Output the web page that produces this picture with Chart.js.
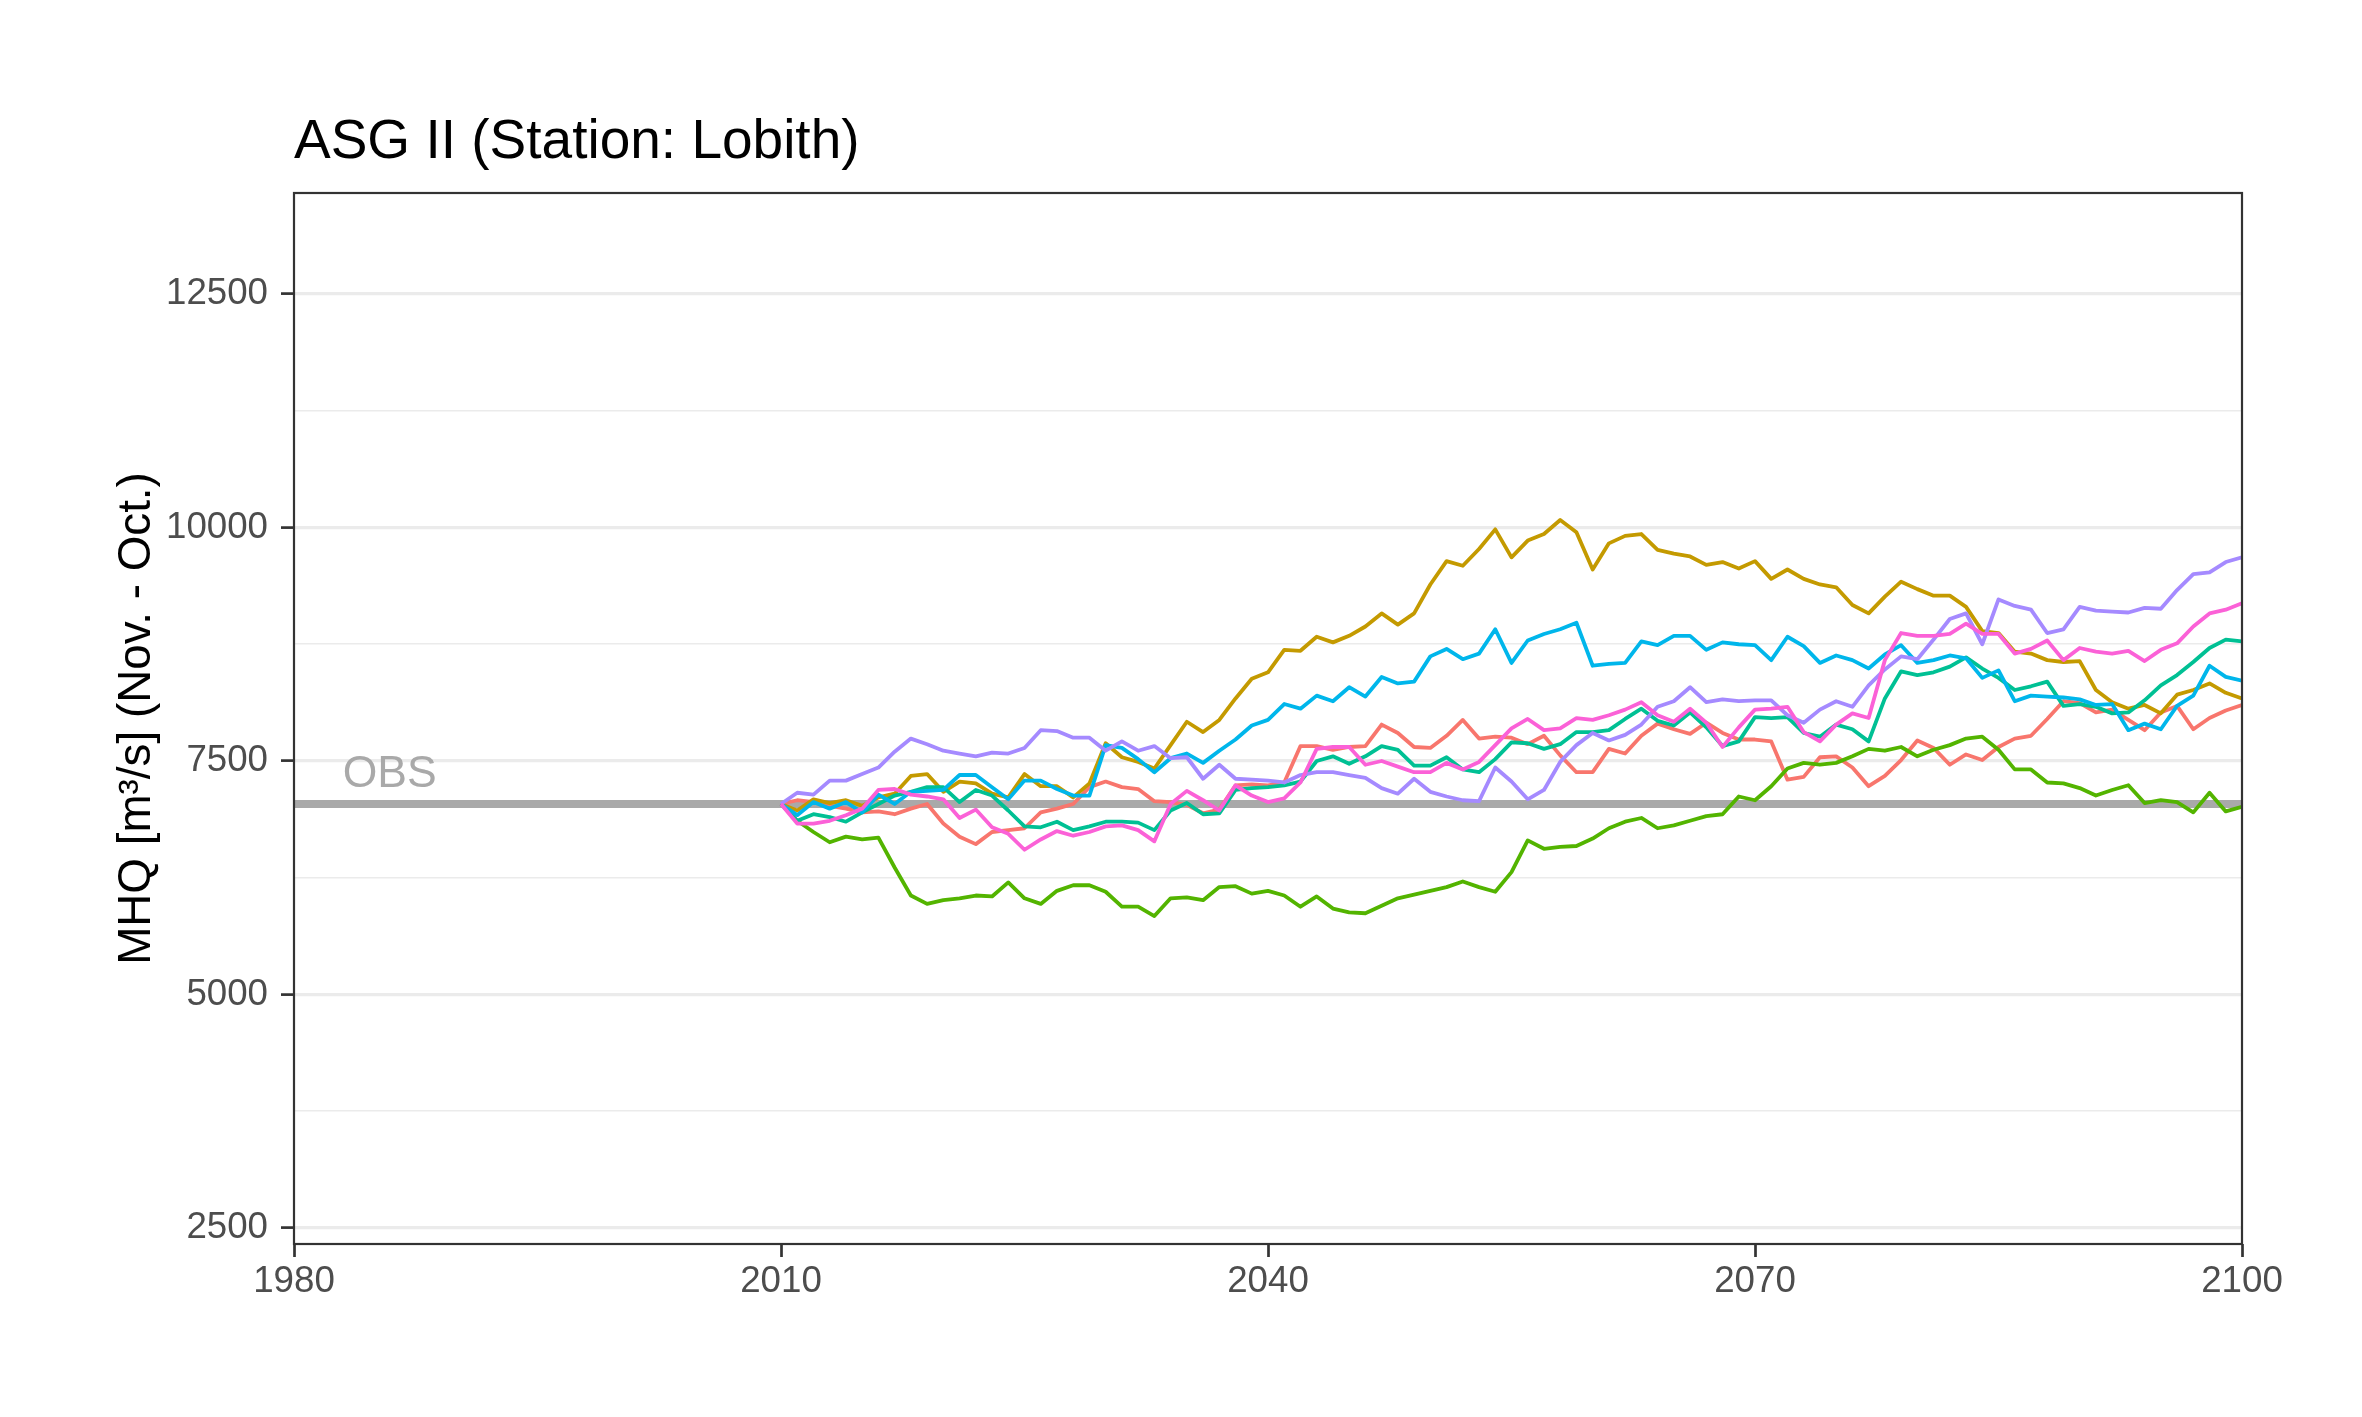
<!DOCTYPE html>
<html>
<head>
<meta charset="utf-8">
<title>ASG II (Station: Lobith)</title>
<script src="https://cdn.jsdelivr.net/npm/chart.js@4.4.1/dist/chart.umd.min.js"></script>
<style>
    html, body { margin: 0; padding: 0; background: #ffffff; }
    #wrap { width: 2362px; height: 1417px; }
</style>
</head>
<body>
<div id="wrap"><canvas id="mhq-chart" width="2362" height="1417"></canvas></div>

<script>
    // Jahre der Modellläufe
    const years = [
        2010, 2011, 2012, 2013, 2014, 2015, 2016, 2017, 2018, 2019,
        2020, 2021, 2022, 2023, 2024, 2025, 2026, 2027, 2028, 2029,
        2030, 2031, 2032, 2033, 2034, 2035, 2036, 2037, 2038, 2039,
        2040, 2041, 2042, 2043, 2044, 2045, 2046, 2047, 2048, 2049,
        2050, 2051, 2052, 2053, 2054, 2055, 2056, 2057, 2058, 2059,
        2060, 2061, 2062, 2063, 2064, 2065, 2066, 2067, 2068, 2069,
        2070, 2071, 2072, 2073, 2074, 2075, 2076, 2077, 2078, 2079,
        2080, 2081, 2082, 2083, 2084, 2085, 2086, 2087, 2088, 2089,
        2090, 2091, 2092, 2093, 2094, 2095, 2096, 2097, 2098, 2099,
        2100
    ];

    // Achsenbeschriftung
    const xTicks = [1980, 2010, 2040, 2070, 2100];
    const yTicks = [2500, 5000, 7500, 10000, 12500];
    const yMinorTicks = [3750, 6250, 8750, 11250];

    // beobachteter Wert (OBS)
    const obsValue = 7040;

    // MHQ der einzelnen Läufe [m³/s]
    const run1 = [
        7040, 7080, 7060, 7020, 6990, 6950, 6960, 6930, 6990, 7040, 6830, 6690, 6610, 6740, 6760, 6780,
        6950, 6990, 7040, 7220, 7280, 7220, 7200, 7070, 7060, 7030, 6940, 6980, 7240, 7250, 7240,
        7270, 7660, 7660, 7620, 7650, 7660, 7890, 7800, 7650, 7640, 7770, 7940, 7740, 7760, 7750,
        7680, 7770, 7560, 7380, 7380, 7630, 7580, 7770, 7900, 7840, 7790, 7910, 7800, 7730, 7730,
        7710, 7300, 7330, 7540, 7550, 7430, 7230, 7340, 7510, 7720, 7640, 7460, 7570, 7510, 7650,
        7740, 7770, 7950, 8140, 8120, 8020, 8050, 7940, 7830, 8020, 8090, 7840, 7960, 8040, 8100
    ];
    const run2 = [
        7040, 6970, 7090, 7050, 7080, 7020, 7110, 7150, 7340, 7360, 7170, 7280, 7260, 7150, 7110, 7360,
        7230, 7230, 7110, 7260, 7690, 7540, 7490, 7420, 7670, 7920, 7810, 7940, 8170, 8380, 8450,
        8690, 8680, 8830, 8770, 8840, 8940, 9080, 8960, 9080, 9390, 9640, 9590, 9770, 9980, 9680,
        9860, 9930, 10080, 9950, 9550, 9830, 9910, 9930, 9760, 9720, 9690, 9600, 9630, 9560, 9640,
        9450, 9550, 9450, 9390, 9360, 9170, 9080, 9260, 9420, 9340, 9270, 9270, 9150, 8890, 8870,
        8670, 8650, 8580, 8560, 8570, 8260, 8130, 8060, 8100, 8010, 8210, 8260, 8330, 8230, 8170
    ];
    const run3 = [
        7040, 6860, 6740, 6630, 6690, 6660, 6680, 6360, 6060, 5970, 6010, 6030, 6060, 6050, 6200, 6030,
        5970, 6110, 6170, 6170, 6100, 5940, 5940, 5840, 6030, 6040, 6010, 6150, 6160, 6080, 6110,
        6060, 5940, 6050, 5920, 5880, 5870, 5950, 6030, 6070, 6110, 6150, 6210, 6150, 6100, 6310,
        6650, 6560, 6580, 6590, 6670, 6780, 6850, 6890, 6780, 6810, 6860, 6910, 6930, 7120, 7080,
        7230, 7420, 7480, 7460, 7480, 7550, 7630, 7610, 7650, 7550, 7620, 7670, 7740, 7760, 7620,
        7410, 7410, 7270, 7260, 7210, 7130, 7190, 7240, 7050, 7080, 7060, 6950, 7160, 6960, 7010
    ];
    const run4 = [
        7040, 6860, 6930, 6900, 6850, 6950, 7040, 7130, 7170, 7220, 7220, 7060, 7190, 7130, 6970, 6800,
        6790, 6850, 6760, 6800, 6850, 6850, 6840, 6760, 6970, 7050, 6930, 6940, 7190, 7210, 7220,
        7240, 7280, 7500, 7550, 7470, 7550, 7660, 7620, 7450, 7450, 7540, 7410, 7380, 7520, 7700,
        7690, 7630, 7680, 7810, 7810, 7830, 7950, 8060, 7930, 7880, 8020, 7860, 7660, 7710, 7970,
        7960, 7970, 7800, 7760, 7890, 7840, 7710, 8170, 8460, 8420, 8450, 8510, 8610, 8490, 8390,
        8260, 8300, 8350, 8090, 8110, 8080, 8010, 8020, 8150, 8310, 8420, 8560, 8710, 8800, 8780
    ];
    const run5 = [
        7040, 6920, 7060, 6990, 7060, 6950, 7140, 7040, 7170, 7180, 7190, 7350, 7350, 7220, 7090, 7290,
        7290, 7200, 7130, 7130, 7670, 7640, 7520, 7380, 7530, 7580, 7480, 7610, 7730, 7880, 7940,
        8110, 8060, 8200, 8140, 8290, 8190, 8400, 8330, 8350, 8620, 8700, 8590, 8650, 8910, 8550,
        8790, 8860, 8910, 8980, 8520, 8540, 8550, 8780, 8740, 8840, 8840, 8690, 8770, 8750, 8740,
        8580, 8830, 8730, 8550, 8630, 8580, 8490, 8640, 8740, 8550, 8580, 8630, 8600, 8390, 8470,
        8140, 8200, 8190, 8180, 8160, 8100, 8110, 7830, 7900, 7840, 8090, 8200, 8520, 8400, 8360
    ];
    const run6 = [
        7040, 7160, 7140, 7290, 7290, 7360, 7430, 7600, 7740, 7680, 7610, 7580, 7550, 7590, 7580, 7640,
        7830, 7820, 7750, 7750, 7610, 7710, 7610, 7660, 7530, 7540, 7310, 7460, 7310, 7300, 7290,
        7270, 7350, 7380, 7380, 7350, 7320, 7210, 7150, 7310, 7170, 7120, 7080, 7070, 7430, 7280,
        7090, 7190, 7490, 7670, 7800, 7720, 7780, 7890, 8080, 8140, 8290, 8130, 8160, 8140, 8150,
        8150, 7990, 7910, 8050, 8140, 8080, 8310, 8480, 8620, 8590, 8800, 9020, 9080, 8750, 9230,
        9160, 9120, 8870, 8910, 9150, 9110, 9100, 9090, 9140, 9130, 9330, 9500, 9520, 9630, 9680
    ];
    const run7 = [
        7040, 6830, 6830, 6860, 6920, 6990, 7190, 7200, 7140, 7120, 7090, 6890, 6980, 6790, 6720, 6550,
        6660, 6750, 6700, 6740, 6800, 6810, 6760, 6640, 7040, 7180, 7080, 6970, 7240, 7130, 7060,
        7100, 7270, 7630, 7650, 7650, 7460, 7500, 7440, 7380, 7380, 7480, 7410, 7490, 7670, 7850,
        7950, 7830, 7850, 7960, 7940, 7990, 8050, 8130, 7990, 7920, 8060, 7910, 7650, 7860, 8050,
        8060, 8080, 7810, 7710, 7890, 8010, 7960, 8580, 8870, 8840, 8840, 8860, 8970, 8860, 8860,
        8650, 8700, 8790, 8580, 8710, 8670, 8650, 8680, 8570, 8690, 8760, 8940, 9080, 9120, 9190
    ];

    const runs = [run1, run2, run3, run4, run5, run6, run7];
    const runColors = ['#F8766D', '#C49A00', '#53B400', '#00C094', '#00B6EB', '#A58AFF', '#FB61D7'];

    const FONT = '"Liberation Sans", Arial, Helvetica, sans-serif';
    Chart.defaults.font.family = FONT;

    // Datensätze: Läufe in ggplot-Reihenfolge (letzter oben), OBS ganz unten
    const datasets = runs.map((values, i) => ({
        label: 'Lauf ' + (i + 1),
        data: years.map((yr, j) => ({ x: yr, y: values[j] })),
        borderColor: runColors[i],
        borderWidth: 3.8,
        borderJoinStyle: 'round',
        pointRadius: 0,
        tension: 0,
        fill: false,
        order: runs.length - i
    }));
    datasets.push({
        label: 'OBS',
        data: [{ x: xTicks[0], y: obsValue }, { x: xTicks[xTicks.length - 1], y: obsValue }],
        borderColor: '#A9A9A9',
        borderWidth: 8,
        pointRadius: 0,
        fill: false,
        order: 99
    });

    // Titel, Achsentitel, OBS-Beschriftung und Rahmen
    const decorations = {
        id: 'decorations',
        afterDatasetsDraw(chart) {
            const { ctx, scales } = chart;
            ctx.save();
            ctx.fillStyle = '#A9A9A9';
            ctx.font = '44.5px ' + FONT;
            ctx.textAlign = 'left';
            ctx.textBaseline = 'alphabetic';
            ctx.fillText('OBS', scales.x.getPixelForValue(1983), scales.y.getPixelForValue(7220));
            ctx.restore();
        },
        afterDraw(chart) {
            const { ctx, chartArea: a } = chart;
            ctx.save();
            ctx.strokeStyle = '#333333';
            ctx.lineWidth = 2.2;
            ctx.strokeRect(a.left, a.top, a.right - a.left, a.bottom - a.top);

            ctx.fillStyle = '#000000';
            ctx.font = '55px ' + FONT;
            ctx.textAlign = 'left';
            ctx.textBaseline = 'alphabetic';
            ctx.fillText('ASG II (Station: Lobith)', a.left, a.top - 35);

            ctx.font = '45.8px ' + FONT;
            ctx.translate(a.left - 144, (a.top + a.bottom) / 2);
            ctx.rotate(-Math.PI / 2);
            ctx.textAlign = 'center';
            ctx.fillText('MHQ [m³/s] (Nov. - Oct.)', 0, 0);
            ctx.restore();
        }
    };

    const isMajor = v => yTicks.includes(v);

    new Chart(document.getElementById('mhq-chart'), {
        type: 'line',
        data: { datasets: datasets },
        options: {
            responsive: false,
            maintainAspectRatio: false,
            devicePixelRatio: 1,
            animation: false,
            layout: { padding: { left: 0, top: 193, right: 120, bottom: 0 } },
            plugins: {
                legend: { display: false },
                tooltip: { enabled: false },
                title: { display: false }
            },
            scales: {
                x: {
                    type: 'linear',
                    min: 1980,
                    max: 2100,
                    afterBuildTicks: scale => { scale.ticks = xTicks.map(v => ({ value: v })); },
                    afterFit: scale => { scale.height = 173; },
                    border: { display: false },
                    grid: {
                        drawOnChartArea: false,
                        drawTicks: true,
                        tickLength: 13,
                        tickWidth: 2.7,
                        tickColor: '#333333',
                        color: '#333333'
                    },
                    ticks: {
                        autoSkip: false,
                        maxRotation: 0,
                        padding: 3,
                        color: '#4D4D4D',
                        font: { size: 36.7 },
                        callback: v => String(v)
                    }
                },
                y: {
                    type: 'linear',
                    min: 2329,
                    max: 13581,
                    afterBuildTicks: scale => {
                        scale.ticks = yTicks.concat(yMinorTicks).sort((a, b) => a - b).map(v => ({ value: v }));
                    },
                    afterFit: scale => { scale.width = 294; },
                    border: { display: false },
                    grid: {
                        color: '#EBEBEB',
                        lineWidth: ctx => isMajor(ctx.tick.value) ? 3.2 : 1.6,
                        drawTicks: true,
                        tickLength: 13,
                        tickWidth: 2.7,
                        tickColor: ctx => isMajor(ctx.tick.value) ? '#333333' : 'rgba(0,0,0,0)'
                    },
                    ticks: {
                        padding: 13,
                        color: '#4D4D4D',
                        font: { size: 36.7 },
                        callback: v => isMajor(v) ? String(v) : ''
                    }
                }
            }
        },
        plugins: [decorations]
    });
</script>
</body>
</html>
